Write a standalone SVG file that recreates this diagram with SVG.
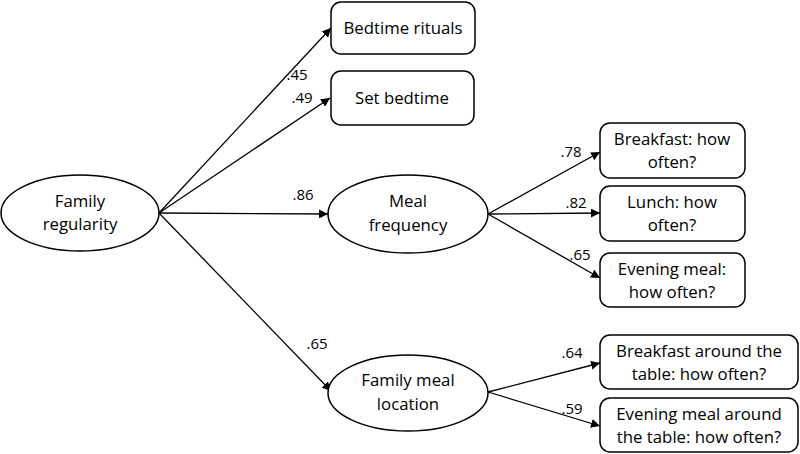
<svg xmlns="http://www.w3.org/2000/svg" width="800" height="454" viewBox="0 0 800 454">
<defs>
<marker id="ah" viewBox="0 0 10 10" refX="10" refY="5" markerWidth="9" markerHeight="9" markerUnits="userSpaceOnUse" orient="auto">
<path d="M0,0 L10,5 L0,10 z" fill="#000"/>
</marker>
</defs>
<style>
.n{fill:#fff;stroke:#000;stroke-width:1.5}
.t{font-family:"Open Sans","Liberation Sans",sans-serif;font-size:16.8px;fill:#000;text-anchor:middle}
.l{font-family:"Open Sans","Liberation Sans",sans-serif;font-size:15px;fill:#000;text-anchor:middle}
.c{stroke:#000;stroke-width:1.3;fill:none;marker-end:url(#ah)}
</style>
<rect width="800" height="454" fill="#fff"/>
<g id="connectors">
<line class="c" x1="159" y1="213" x2="331" y2="28"/>
<line class="c" x1="159" y1="213" x2="330" y2="98"/>
<line class="c" x1="159" y1="213" x2="328" y2="214"/>
<line class="c" x1="159" y1="213" x2="331" y2="391"/>
<line class="c" x1="488" y1="214" x2="600" y2="152"/>
<line class="c" x1="488" y1="214" x2="600" y2="213"/>
<line class="c" x1="488" y1="214" x2="600" y2="278"/>
<line class="c" x1="488" y1="392" x2="600" y2="363"/>
<line class="c" x1="488" y1="392" x2="600" y2="426"/>
<text class="l" x="297" y="80">.45</text>
<text class="l" x="302" y="103">.49</text>
<text class="l" x="303" y="200">.86</text>
<text class="l" x="317" y="349">.65</text>
<text class="l" x="571" y="157">.78</text>
<text class="l" x="576" y="208">.82</text>
<text class="l" x="580" y="260">.65</text>
<text class="l" x="572" y="358">.64</text>
<text class="l" x="572" y="414">.59</text>
</g>
<g id="family-regularity">
<ellipse class="n" cx="80" cy="213" rx="79" ry="38"/>
<text class="t" x="80" y="207">Family</text>
<text class="t" x="80" y="230">regularity</text>
</g>
<g id="bedtime-rituals">
<rect class="n" x="331" y="2" width="144" height="52" rx="10"/>
<text class="t" x="403" y="34">Bedtime rituals</text>
</g>
<g id="set-bedtime">
<rect class="n" x="331" y="71" width="143" height="54" rx="10"/>
<text class="t" x="402" y="104">Set bedtime</text>
</g>
<g id="meal-frequency">
<ellipse class="n" cx="408" cy="214" rx="80" ry="39"/>
<text class="t" x="408" y="207">Meal</text>
<text class="t" x="408" y="231">frequency</text>
</g>
<g id="family-meal-location">
<ellipse class="n" cx="408" cy="393" rx="80" ry="38"/>
<text class="t" x="408" y="386">Family meal</text>
<text class="t" x="408" y="410">location</text>
</g>
<g id="breakfast-how-often">
<rect class="n" x="600" y="123" width="145" height="55" rx="10"/>
<text class="t" x="672" y="145">Breakfast: how</text>
<text class="t" x="672" y="168">often?</text>
</g>
<g id="lunch-how-often">
<rect class="n" x="600" y="186" width="145" height="55" rx="10"/>
<text class="t" x="672" y="208">Lunch: how</text>
<text class="t" x="672" y="231">often?</text>
</g>
<g id="evening-meal-how-often">
<rect class="n" x="600" y="253" width="145" height="54" rx="10"/>
<text class="t" x="672" y="275">Evening meal:</text>
<text class="t" x="672" y="298">how often?</text>
</g>
<g id="breakfast-around-table">
<rect class="n" x="600" y="335" width="198" height="54" rx="10"/>
<text class="t" x="699" y="357">Breakfast around the</text>
<text class="t" x="699" y="380">table: how often?</text>
</g>
<g id="evening-meal-around-table">
<rect class="n" x="600" y="398" width="198" height="54" rx="10"/>
<text class="t" x="699" y="420">Evening meal around</text>
<text class="t" x="699" y="443">the table: how often?</text>
</g>
</svg>
